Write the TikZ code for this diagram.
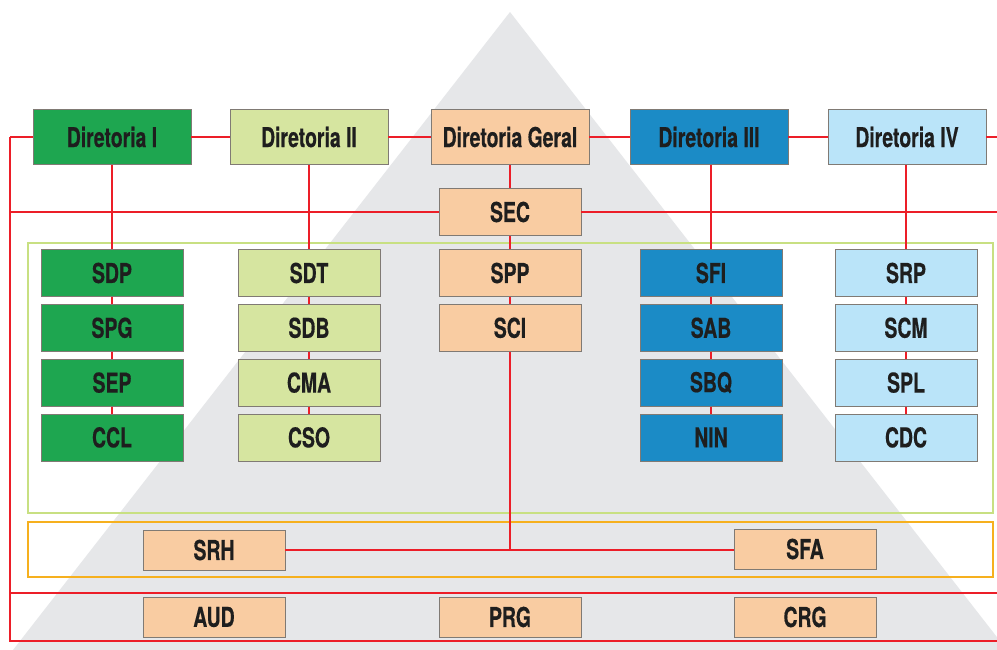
\documentclass[tikz,border=0pt]{standalone}
\usepackage{fontspec}
\setmainfont{TeX Gyre Heros}[FakeStretch=0.71, FakeBold=0.4]
\usetikzlibrary{positioning}

\definecolor{trigray}{RGB}{230,231,233}
\definecolor{linkred}{RGB}{236,30,40}
\definecolor{boxgray}{RGB}{128,122,116}
\definecolor{ink}{RGB}{30,30,30}
\definecolor{dirone}{RGB}{30,166,80}
\definecolor{dirtwo}{RGB}{214,229,160}
\definecolor{dirgeral}{RGB}{249,204,162}
\definecolor{dirthree}{RGB}{27,139,198}
\definecolor{dirfour}{RGB}{186,228,249}
\definecolor{framegreen}{RGB}{200,224,130}
\definecolor{frameorange}{RGB}{246,176,30}

\begin{document}
\begin{tikzpicture}[
            x=0.75pt, y=-0.75pt,
            box/.style={draw=boxgray, line width=0.6pt, text=ink, inner sep=0pt,
                font=\bfseries\fontsize{20.5}{22}\selectfont,
                minimum width=106.5pt, minimum height=35.25pt},
            dir/.style={box, minimum width=118.5pt, minimum height=41.25pt},
            low/.style={box, minimum height=30pt},
            link/.style={draw=linkred, line width=1.3pt},
            gap/.style={below=5.25pt of #1}
        ]
        \useasboundingbox (0,0) rectangle (997,650);
        \clip (0,0) rectangle (997,650);
        \fill[white] (0,0) rectangle (997,650);
        \fill[trigray] (510,12) -- (13,650) -- (1007,650) -- cycle;

        % frames
        \draw[framegreen, line width=1.5pt] (28,243) rectangle (993,513);
        \draw[frameorange, line width=1.5pt] (28,522) rectangle (993,577);

        % top row
        \node[dir, fill=dirone] (d1) at (112,137) {Diretoria I};
        \node[dir, fill=dirtwo] (d2) at (309,137) {Diretoria II};
        \node[dir, fill=dirgeral] (dg) at (510,137) {Diretoria Geral};
        \node[dir, fill=dirthree] (d3) at (709,137) {Diretoria III};
        \node[dir, fill=dirfour] (d4) at (907,137) {Diretoria IV};
        \node[box, fill=dirgeral] (sec) at (510,212) {SEC};

        % stacks
        \node[box, fill=dirone] (sdp) at (112,273) {SDP};
        \node[box, fill=dirone, gap=sdp] (spg) {SPG};
        \node[box, fill=dirone, gap=spg] (sep) {SEP};
        \node[box, fill=dirone, gap=sep] (ccl) {CCL};

        \node[box, fill=dirtwo] (sdt) at (309,273) {SDT};
        \node[box, fill=dirtwo, gap=sdt] (sdb) {SDB};
        \node[box, fill=dirtwo, gap=sdb] (cma) {CMA};
        \node[box, fill=dirtwo, gap=cma] (cso) {CSO};

        \node[box, fill=dirgeral] (spp) at (510,273) {SPP};
        \node[box, fill=dirgeral, gap=spp] (sci) {SCI};

        \node[box, fill=dirthree] (sfi) at (711,273) {SFI};
        \node[box, fill=dirthree, gap=sfi] (sab) {SAB};
        \node[box, fill=dirthree, gap=sab] (sbq) {SBQ};
        \node[box, fill=dirthree, gap=sbq] (nin) {NIN};

        \node[box, fill=dirfour] (srp) at (906,273) {SRP};
        \node[box, fill=dirfour, gap=srp] (scm) {SCM};
        \node[box, fill=dirfour, gap=scm] (spl) {SPL};
        \node[box, fill=dirfour, gap=spl] (cdc) {CDC};

        % support and bottom row
        \node[low, fill=dirgeral] (srh) at (214,550) {SRH};
        \node[low, fill=dirgeral] (sfa) at (805,549) {SFA};
        \node[low, fill=dirgeral] (aud) at (214,617) {AUD};
        \node[low, fill=dirgeral] (prg) at (510,617) {PRG};
        \node[low, fill=dirgeral] (crg) at (805,617) {CRG};

        \coordinate (lt) at (10,137);
        \coordinate (rt) at (997,137);
        \coordinate (lm) at (10,212);
        \coordinate (rm) at (997,212);
        \coordinate (ls) at (10,593);
        \coordinate (rs) at (997,593);
        \coordinate (lb) at (10,641);
        \coordinate (rb) at (997,641);
        \coordinate (jct) at (510,550);

        % connectors
        \draw[link] (lt) -- (d1) -- (d2) -- (dg) -- (d3) -- (d4) -- (rt);
        \draw[link] (lt) -- (lb) -- (rb);
        \draw[link] (ls) -- (rs);
        \draw[link] (lm) -- (sec) -- (rm);
        \draw[link] (d1) -- (sdp) -- (spg) -- (sep) -- (ccl);
        \draw[link] (d2) -- (sdt) -- (sdb) -- (cma) -- (cso);
        \draw[link] (dg) -- (sec) -- (spp) -- (sci) -- (jct);
        \draw[link] (d3.south -| sfi) -- (sfi) -- (sab) -- (sbq) -- (nin);
        \draw[link] (d4.south -| srp) -- (srp) -- (scm) -- (spl) -- (cdc);
        \draw[link] (srh) -- (jct -| sfa.west);
    \end{tikzpicture}
\end{document}
